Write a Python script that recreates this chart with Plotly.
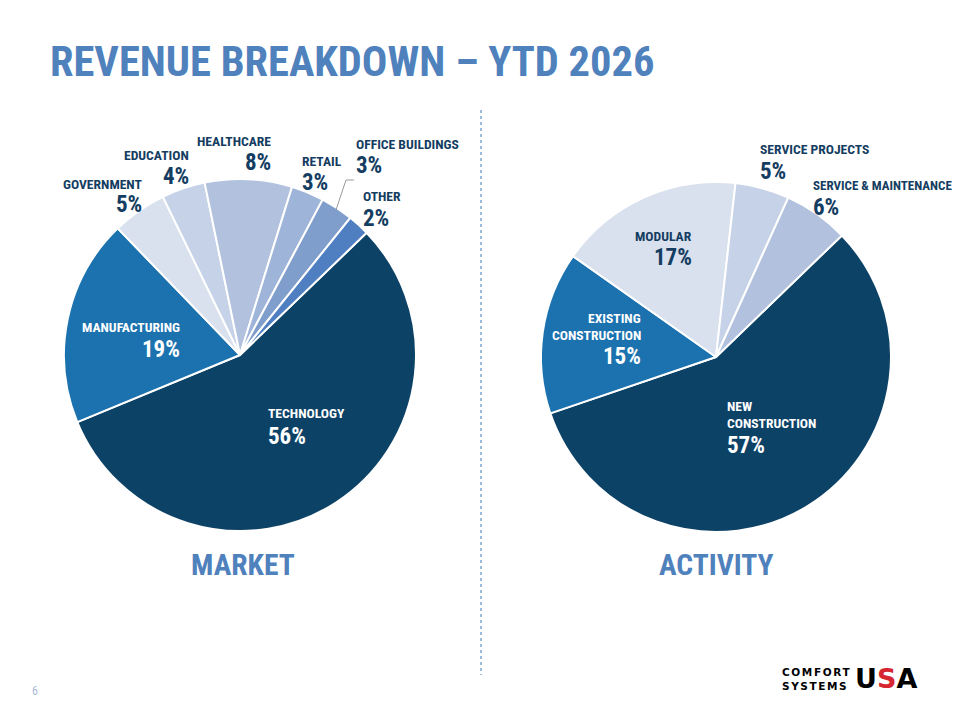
import plotly.graph_objects as go

# ---------------- data ----------------
market_labels = ["TECHNOLOGY", "MANUFACTURING", "GOVERNMENT", "EDUCATION",
                 "HEALTHCARE", "RETAIL", "OFFICE BUILDINGS", "OTHER"]
market_values = [56, 19, 5, 4, 8, 3, 3, 2]
market_colors = ["#0d4267", "#1b72ae", "#d9e0ee", "#c6d2e7",
                 "#b1c1de", "#9fb4d9", "#7f9ecb", "#4f7fc0"]

activity_labels = ["NEW CONSTRUCTION", "EXISTING CONSTRUCTION", "MODULAR",
                   "SERVICE PROJECTS", "SERVICE & MAINTENANCE"]
activity_values = [57, 15, 17, 5, 6]
activity_colors = ["#0d4267", "#1b72ae", "#d9e0ee", "#c6d2e7", "#b1c1de"]

TITLE = "REVENUE BREAKDOWN – YTD 2026"
FONT = "Roboto Condensed, Liberation Sans Narrow, Roboto, sans-serif"
NAVY = "#143d61"
BLUE = "#4f81bd"
OFF = 8  # page body margin
W, H = 960 - 2 * OFF, 720 - 2 * OFF


def px(x):
    return (x - OFF) / W


def py(y):
    return 1 - (y - OFF) / H


fig = go.Figure()

fig.add_trace(go.Pie(
    labels=market_labels, values=market_values, sort=False,
    direction="clockwise", rotation=46,
    marker=dict(colors=market_colors, line=dict(color="white", width=2)),
    textinfo="none", hoverinfo="label+percent", showlegend=False,
    domain=dict(x=[px(64), px(416)], y=[py(531), py(179)]),
))
fig.add_trace(go.Pie(
    labels=activity_labels, values=activity_values, sort=False,
    direction="clockwise", rotation=46,
    marker=dict(colors=activity_colors, line=dict(color="white", width=2)),
    textinfo="none", hoverinfo="label+percent", showlegend=False,
    domain=dict(x=[px(541), px(891)], y=[py(532), py(182)]),
))

ann = []


def add_label(name_lines, pct, x, y_name, y_pct, align, color, name_size=13.6):
    for i, ln in enumerate(name_lines):
        ann.append(dict(x=px(x), y=py(y_name + i * 16.5), xref="paper", yref="paper",
                        text="<b>%s</b>" % ln, showarrow=False, xanchor=align,
                        yanchor="middle", align=align, borderpad=0,
                        font=dict(family=FONT, size=name_size, color=color)))
    ann.append(dict(x=px(x), y=py(y_pct), xref="paper", yref="paper",
                    text="<b>%s</b>" % pct, showarrow=False, xanchor=align,
                    yanchor="middle", align=align, borderpad=0,
                    font=dict(family=FONT, size=23, color=color)))


mk = dict(zip(market_labels, market_values))
ac = dict(zip(activity_labels, activity_values))

add_label(["GOVERNMENT"], "%d%%" % mk["GOVERNMENT"], 143, 184, 205, "right", NAVY)
add_label(["EDUCATION"], "%d%%" % mk["EDUCATION"], 190, 155, 176, "right", NAVY)
add_label(["HEALTHCARE"], "%d%%" % mk["HEALTHCARE"], 272, 141, 162, "right", NAVY)
add_label(["RETAIL"], "%d%%" % mk["RETAIL"], 301, 161, 183, "left", NAVY)
add_label(["OFFICE BUILDINGS"], "%d%%" % mk["OFFICE BUILDINGS"], 355, 144, 166, "left", NAVY)
add_label(["OTHER"], "%d%%" % mk["OTHER"], 362, 196, 218, "left", NAVY)
add_label(["MANUFACTURING"], "%d%%" % mk["MANUFACTURING"], 181, 327, 349, "right", "white")
add_label(["TECHNOLOGY"], "%d%%" % mk["TECHNOLOGY"], 267, 413, 436, "left", "white")

add_label(["SERVICE PROJECTS"], "%d%%" % ac["SERVICE PROJECTS"], 759, 149, 171, "left", NAVY)
add_label(["SERVICE & MAINTENANCE"], "%d%%" % ac["SERVICE & MAINTENANCE"], 812, 185, 207,
          "left", NAVY, name_size=13.0)
add_label(["MODULAR"], "%d%%" % ac["MODULAR"], 693, 236, 257, "right", NAVY)
add_label(["EXISTING", "CONSTRUCTION"], "%d%%" % ac["EXISTING CONSTRUCTION"], 642, 318, 356, "right", "white")
add_label(["NEW", "CONSTRUCTION"], "%d%%" % ac["NEW CONSTRUCTION"], 726, 406, 445, "left", "white")

# title and section captions
ann.append(dict(x=px(48), y=py(62), xref="paper", yref="paper", text="<b>%s</b>" % TITLE,
                showarrow=False, xanchor="left", yanchor="middle",
                font=dict(family=FONT, size=42.5, color=BLUE)))
ann.append(dict(x=px(243), y=py(565), xref="paper", yref="paper", text="<b>MARKET</b>",
                showarrow=False, xanchor="center", yanchor="middle",
                font=dict(family=FONT, size=29.5, color=BLUE)))
ann.append(dict(x=px(716), y=py(565), xref="paper", yref="paper", text="<b>ACTIVITY</b>",
                showarrow=False, xanchor="center", yanchor="middle",
                font=dict(family=FONT, size=29.5, color=BLUE)))
ann.append(dict(x=px(35), y=py(691), xref="paper", yref="paper", text="6",
                showarrow=False, xanchor="center", yanchor="middle",
                font=dict(family=FONT, size=12, color="#a9bad6")))
# logo
LOGO_FONT = "DejaVu Sans, Liberation Sans"
ann.append(dict(x=px(852), y=py(679), xref="paper", yref="paper",
                text="<span style='letter-spacing:1.6px'><b>COMFORT<br>SYSTEMS</b></span>",
                showarrow=False, xanchor="right", yanchor="middle", align="left",
                borderpad=0, font=dict(family=LOGO_FONT, size=10.5, color="black")))
ann.append(dict(x=px(854), y=py(678), xref="paper", yref="paper",
                text="<b>U<span style='color:#d62631'>S</span>A</b>", showarrow=False,
                xanchor="left", yanchor="middle", borderpad=0,
                font=dict(family=LOGO_FONT, size=27, color="black")))

shapes = [
    dict(type="line", xref="paper", yref="paper", x0=px(481), x1=px(481),
         y0=py(110), y1=py(675), line=dict(color="#7fa6cf", width=1.5, dash="dot")),
    dict(type="path", xref="paper", yref="paper",
         path="M %f,%f L %f,%f L %f,%f" % (px(354), py(180), px(346), py(180), px(336), py(210)),
         line=dict(color="#9a9a9a", width=1)),
]

fig.update_layout(
    width=W, height=H, margin=dict(l=0, r=0, t=0, b=0),
    paper_bgcolor="white", plot_bgcolor="white",
    annotations=ann, shapes=shapes, showlegend=False,
)

fig.write_html("out.html")
